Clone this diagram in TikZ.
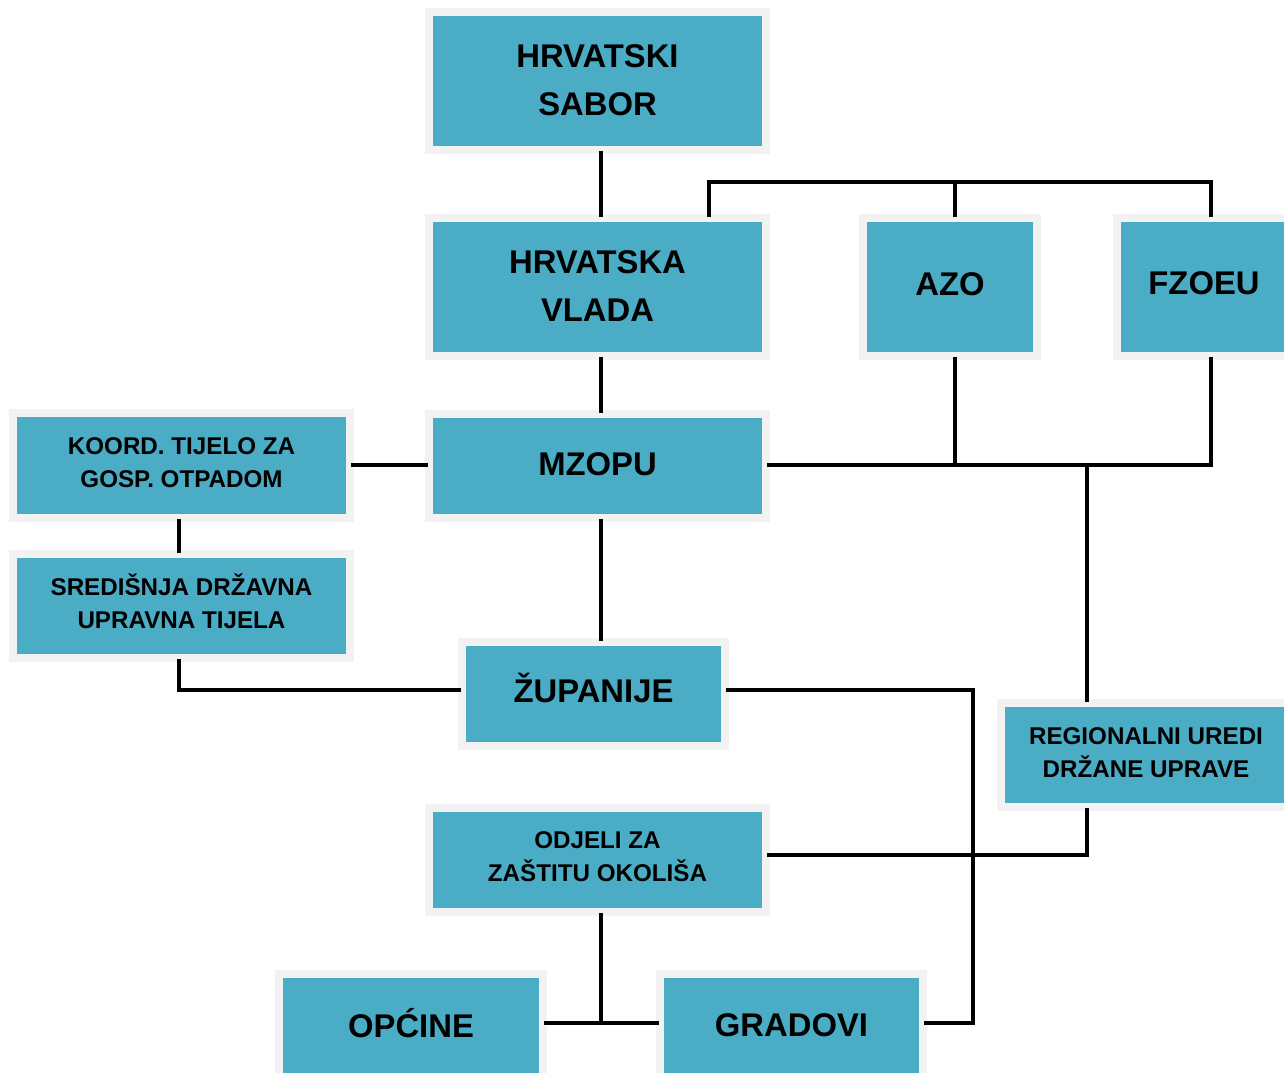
\documentclass[tikz,border=0pt]{standalone}
\usepackage{fontspec}
\setmainfont{Liberation Sans}
\definecolor{boxteal}{HTML}{4BACC6}
\definecolor{framegray}{HTML}{F2F2F2}
\tikzset{
  org/.style={fill=boxteal, draw=framegray, line width=8pt, outer sep=1pt, inner sep=0pt, align=center},
  big/.style={font=\fontsize{32.8}{48}\selectfont\bfseries},
  small/.style={font=\fontsize{24.2}{33}\selectfont\bfseries},
  lift/.style={text depth=#1},
  link/.style={draw=black, line width=4pt, line join=miter}
}
\begin{document}
\begin{tikzpicture}[x=1pt,y=-1pt]
\useasboundingbox (0,0) rectangle (1284,1072);
\clip (0,0) rectangle (1284,1072);
% boxes
\node[org,big,lift=2pt,minimum width=337pt,minimum height=138pt] (sabor) at (597.5,81) {HRVATSKI\\SABOR};
\node[org,big,lift=2pt,minimum width=337pt,minimum height=138pt] (vlada) at (597.5,287) {HRVATSKA\\VLADA};
\node[org,big,lift=6pt,minimum width=174pt,minimum height=138pt] (azo) at (950,287) {AZO};
\node[org,big,lift=8pt,minimum width=174pt,minimum height=138pt] (fzoeu) at (1204,287) {FZOEU};
\node[org,big,lift=4pt,minimum width=337pt,minimum height=104pt] (mzopu) at (597.5,466) {MZOPU};
\node[org,small,lift=6pt,minimum width=337pt,minimum height=105pt] (koord) at (181.5,465.5) {KOORD. TIJELO ZA\\GOSP. OTPADOM};
\node[org,small,lift=10pt,minimum width=337pt,minimum height=104pt] (sred) at (181.5,606) {SREDIŠNJA DRŽAVNA\\UPRAVNA TIJELA};
\node[org,big,lift=12pt,minimum width=263pt,minimum height=104pt] (zup) at (593.5,694) {ŽUPANIJE};
\node[org,small,lift=4pt,minimum width=290pt,minimum height=104pt] (reg) at (1146,755) {REGIONALNI UREDI\\DRŽANE UPRAVE};
\node[org,small,lift=6pt,minimum width=337pt,minimum height=104pt] (odjeli) at (597.5,860) {ODJELI ZA\\ZAŠTITU OKOLIŠA};
\node[org,big,lift=6pt,minimum width=264pt,minimum height=104pt] (opc) at (411,1026) {OPĆINE};
\node[org,big,lift=2pt,minimum width=263pt,minimum height=104pt] (grad) at (791.5,1026) {GRADOVI};
% helper coordinates
\coordinate (cx) at (601,0);
\coordinate (kx) at (179,0);
\coordinate (brL) at (709,182);
\coordinate (brA) at (955,182);
\coordinate (brR) at (1211,182);
\coordinate (jA) at (955,465);
\coordinate (jD) at (1087,465);
\coordinate (jR) at (1211,465);
\coordinate (rb) at (1087,855);
\coordinate (sz) at (179,690);
\coordinate (zr) at (973,690);
\coordinate (gr) at (973,1023);
\coordinate (og) at (601,1023);
% connectors
\draw[link] (sabor.south -| cx) -- (vlada.north -| cx);
\draw[link] (vlada.north -| brL) -- (brL) -- (brR) -- (fzoeu.north -| brR);
\draw[link] (brA) -- (azo.north -| brA);
\draw[link] (vlada.south -| cx) -- (mzopu.north -| cx);
\draw[link] (koord.east |- jA) -- (mzopu.west |- jA);
\draw[link] (mzopu.east |- jA) -- (jR) -- (fzoeu.south -| jR);
\draw[link] (azo.south -| jA) -- (jA);
\draw[link] (jD) -- (reg.north -| jD);
\draw[link] (reg.south -| rb) -- (rb) -- (odjeli.east |- rb);
\draw[link] (koord.south -| kx) -- (sred.north -| kx);
\draw[link] (sred.south -| kx) -- (sz) -- (zup.west |- sz);
\draw[link] (mzopu.south -| cx) -- (zup.north -| cx);
\draw[link] (zup.east |- zr) -- (zr) -- (gr) -- (grad.east |- gr);
\draw[link] (odjeli.south -| og) -- (og);
\draw[link] (opc.east |- og) -- (grad.west |- og);
\end{tikzpicture}
\end{document}
